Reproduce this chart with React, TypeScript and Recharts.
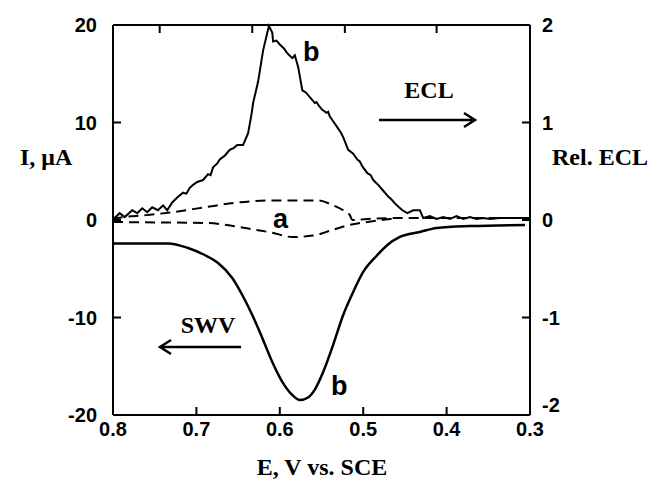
import React from 'react';
import { LineChart, Line, XAxis, YAxis } from 'recharts';

// potential axis (V vs. SCE), drawn from 0.8 down to 0.3
const E_TICKS = [0.8, 0.7, 0.6, 0.5, 0.4, 0.3];
const TOP_TICKS = [0.744, 0.633, 0.522, 0.412];
const I_TICKS = [-20, -10, 0, 10, 20];
const ECL_TICKS = [-2, -1, 0, 1, 2];

// [E, rel. ECL]  curve b, solid
const eclB: [number, number][] = [
  [0.8, 0.03], [0.798, 0.02], [0.792, 0.07], [0.786, 0.03], [0.777, 0.1], [0.771, 0.07],
  [0.765, 0.12], [0.759, 0.08], [0.753, 0.13], [0.746, 0.1], [0.74, 0.15], [0.735, 0.1],
  [0.729, 0.18], [0.723, 0.23], [0.716, 0.28], [0.712, 0.27], [0.708, 0.33], [0.704, 0.36],
  [0.699, 0.39], [0.692, 0.41], [0.686, 0.47], [0.683, 0.46], [0.68, 0.54], [0.675, 0.58],
  [0.672, 0.62], [0.666, 0.66], [0.663, 0.69], [0.66, 0.72], [0.655, 0.74], [0.651, 0.77],
  [0.644, 0.77], [0.638, 0.89], [0.634, 1.08], [0.632, 1.2], [0.626, 1.42], [0.62, 1.74],
  [0.615, 1.92], [0.613, 1.99], [0.609, 1.92], [0.608, 1.83], [0.604, 1.84], [0.6, 1.8],
  [0.595, 1.76], [0.591, 1.71], [0.585, 1.66], [0.582, 1.69], [0.578, 1.57], [0.573, 1.33],
  [0.569, 1.31], [0.566, 1.28], [0.562, 1.24], [0.558, 1.2], [0.556, 1.21], [0.553, 1.17],
  [0.549, 1.13], [0.544, 1.1], [0.542, 1.11], [0.54, 1.06], [0.535, 1.0], [0.531, 0.95],
  [0.527, 0.9], [0.524, 0.85], [0.518, 0.72], [0.512, 0.68], [0.507, 0.62], [0.504, 0.6],
  [0.501, 0.55], [0.495, 0.48], [0.491, 0.46], [0.488, 0.41], [0.482, 0.36], [0.477, 0.31],
  [0.47, 0.24], [0.466, 0.21], [0.462, 0.17], [0.457, 0.13], [0.453, 0.1], [0.447, 0.07],
  [0.44, 0.1], [0.432, 0.1], [0.428, 0.02], [0.42, 0.04], [0.412, 0.01], [0.404, 0.03],
  [0.396, 0.01], [0.388, 0.04], [0.38, 0.01], [0.372, 0.03], [0.364, 0.01], [0.356, 0.02],
  [0.348, 0.01], [0.336, 0.02], [0.3, 0.02],
];

// [E, rel. ECL]  curve a, dashed
const eclA: [number, number][] = [
  [0.8, 0.0], [0.795, 0.02], [0.76, 0.05], [0.729, 0.08], [0.69, 0.13], [0.65, 0.18],
  [0.609, 0.2], [0.554, 0.2], [0.536, 0.15], [0.524, 0.1], [0.516, 0.05], [0.513, 0.0],
  [0.495, 0.01], [0.456, 0.02], [0.4, 0.02], [0.336, 0.02],
];

// [E, I in uA]  SWV curve a, dashed
const swvA: [number, number][] = [
  [0.8, -0.2], [0.75, -0.25], [0.69, -0.3], [0.65, -0.7], [0.63, -1.0], [0.609, -1.3],
  [0.585, -1.75], [0.56, -1.6], [0.536, -1.0], [0.516, -0.5], [0.495, -0.2], [0.464, 0.15],
];

// [E, I in uA]  SWV curve b, solid
const swvB: [number, number][] = [
  [0.8, -2.4], [0.734, -2.4], [0.71, -2.87], [0.69, -3.59], [0.674, -4.41], [0.657, -5.95],
  [0.645, -7.69], [0.633, -9.74], [0.621, -12.1], [0.609, -14.56], [0.597, -16.6],
  [0.585, -17.95], [0.576, -18.46], [0.566, -18.2], [0.558, -17.4], [0.548, -15.6],
  [0.536, -12.8], [0.524, -9.74], [0.512, -7.38], [0.5, -5.33], [0.483, -3.59], [0.471, -2.56],
  [0.456, -1.74], [0.432, -1.23], [0.412, -0.82], [0.372, -0.62], [0.306, -0.51],
];

const toRows = (pts: [number, number][]) => pts.map(([e, v]) => ({ e, v }));

const SANS = '"Liberation Sans", Arial, sans-serif';
const SERIF = '"Liberation Serif", "Times New Roman", serif';
const INK = '#000';

const BottomTick = ({ x, y, payload }: any) => (
  <g>
    <line x1={x} x2={x} y1={y} y2={y - 8} stroke={INK} strokeWidth={2} />
    <text x={x} y={y + 21} textAnchor="middle" fontFamily={SANS} fontWeight="bold" fontSize={20} fill={INK}>
      {payload.value.toFixed(1)}
    </text>
  </g>
);

const TopTick = ({ x, y }: any) => (
  <line x1={x} x2={x} y1={y} y2={y + 8} stroke={INK} strokeWidth={2} />
);

const LeftTick = ({ x, y, payload }: any) => (
  <g>
    <line x1={x} x2={x + 8} y1={y} y2={y} stroke={INK} strokeWidth={2} />
    <text x={x - 16} y={y + 7} textAnchor="end" fontFamily={SANS} fontWeight="bold" fontSize={20} fill={INK}>
      {payload.value}
    </text>
  </g>
);

const RightTick = ({ x, y, payload }: any) => (
  <g>
    <line x1={x} x2={x - 8} y1={y} y2={y} stroke={INK} strokeWidth={2} />
    <text x={x + 12} y={payload.value === -2 ? y - 3 : y + 7} textAnchor="start" fontFamily={SANS} fontWeight="bold" fontSize={20} fill={INK}>
      {payload.value}
    </text>
  </g>
);

export default function App() {
  const axisLine = { stroke: INK, strokeWidth: 2 };
  return (
    <div style={{ position: 'absolute', left: 0, top: 0, width: 654, height: 484, background: '#fff' }}>
      <LineChart width={654} height={484} margin={{ top: 0, right: 0, bottom: 0, left: 0 }}>
        <XAxis
          xAxisId="bottom"
          dataKey="e"
          type="number"
          domain={[0.3, 0.8]}
          reversed
          allowDataOverflow
          ticks={E_TICKS}
          interval={0}
          height={69}
          tickSize={0}
          tickMargin={0}
          tick={<BottomTick />}
          axisLine={axisLine}
        />
        <XAxis
          xAxisId="top"
          orientation="top"
          dataKey="e"
          type="number"
          domain={[0.3, 0.8]}
          reversed
          allowDataOverflow
          ticks={TOP_TICKS}
          interval={0}
          height={25}
          tickSize={0}
          tickMargin={0}
          tick={<TopTick />}
          axisLine={axisLine}
        />
        <YAxis
          yAxisId="left"
          type="number"
          domain={[-20, 20]}
          ticks={I_TICKS}
          interval={0}
          width={113}
          tickSize={0}
          tickMargin={0}
          tick={<LeftTick />}
          axisLine={axisLine}
        />
        <YAxis
          yAxisId="right"
          orientation="right"
          type="number"
          domain={[-2, 2]}
          ticks={ECL_TICKS}
          interval={0}
          width={124}
          tickSize={0}
          tickMargin={0}
          tick={<RightTick />}
          axisLine={axisLine}
        />
        <Line
          xAxisId="bottom"
          yAxisId="right"
          data={toRows(eclA)}
          dataKey="v"
          type="monotone"
          stroke={INK}
          strokeWidth={2}
          strokeDasharray="10 6"
          dot={false}
          isAnimationActive={false}
        />
        <Line
          xAxisId="bottom"
          yAxisId="left"
          data={toRows(swvA)}
          dataKey="v"
          type="monotone"
          stroke={INK}
          strokeWidth={2}
          strokeDasharray="10 6"
          dot={false}
          isAnimationActive={false}
        />
        <Line
          xAxisId="bottom"
          yAxisId="right"
          data={toRows(eclB)}
          dataKey="v"
          type="linear"
          stroke={INK}
          strokeWidth={2}
          dot={false}
          isAnimationActive={false}
        />
        <Line
          xAxisId="bottom"
          yAxisId="left"
          data={toRows(swvB)}
          dataKey="v"
          type="monotone"
          stroke={INK}
          strokeWidth={2.5}
          dot={false}
          isAnimationActive={false}
        />
      </LineChart>
      <svg width={654} height={484} style={{ position: 'absolute', left: 0, top: 0, pointerEvents: 'none' }}>
        <g fontFamily={SERIF} fontWeight="bold" fontSize={24} fill={INK}>
          <text x={20} y={165}>I, μA</text>
          <text x={552} y={165}>Rel. ECL</text>
          <text x={322} y={475} textAnchor="middle">E, V vs. SCE</text>
          <text x={429} y={98} textAnchor="middle">ECL</text>
          <text x={208} y={333} textAnchor="middle">SWV</text>
        </g>
        <g fontFamily={SANS} fontWeight="bold" fontSize={27} fill={INK}>
          <text x={303} y={61}>b</text>
          <text x={273} y={228}>a</text>
          <text x={331} y={395}>b</text>
        </g>
        <g stroke={INK} strokeWidth={2.5} fill="none">
          <line x1={379} y1={120} x2={474} y2={120} />
          <polyline points="464,113 475,120 464,127" />
          <line x1={241} y1={347} x2={161} y2={347} />
          <polyline points="171,340 160,347 171,354" />
        </g>
      </svg>
    </div>
  );
}
